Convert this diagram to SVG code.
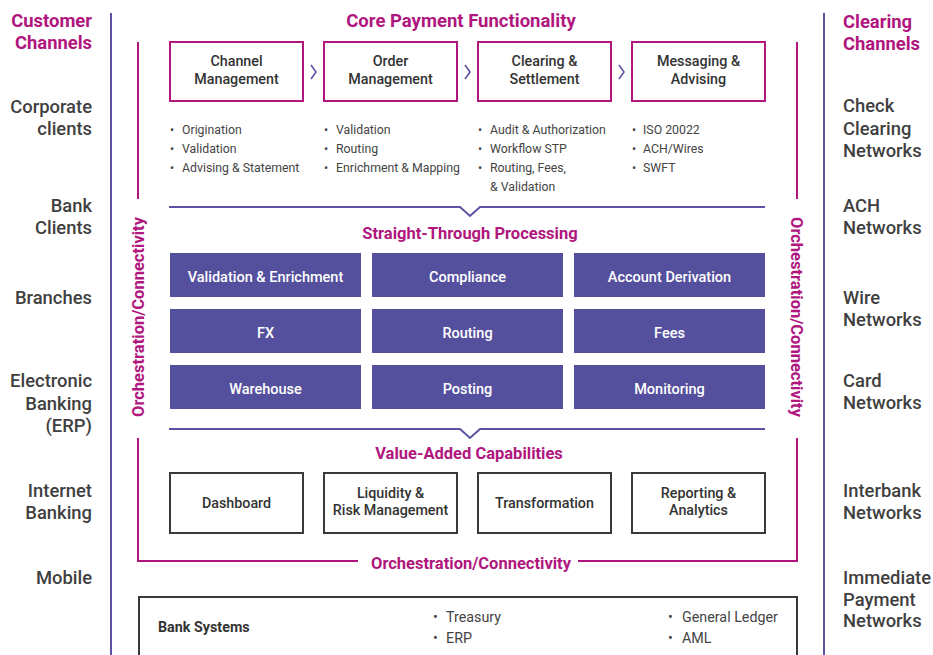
<svg xmlns="http://www.w3.org/2000/svg" width="933" height="655" viewBox="0 0 933 655">
<defs>
<style>
text{font-family:Roboto,"Liberation Sans",sans-serif;}
.side{font-size:18.4px;fill:#3f3f3f;font-weight:500;}
.sideh{font-size:18.4px;font-weight:bold;fill:#b0167e;}
.title{font-size:18.5px;font-weight:bold;fill:#b0167e;text-anchor:middle;}
.sub{font-size:16.5px;font-weight:bold;fill:#b0167e;text-anchor:middle;}
.bx{fill:#fff;stroke:#b0167e;stroke-width:2;}
.vbx{fill:#fff;stroke:#3a3a3a;stroke-width:2;}
.pbx{fill:#55509d;}
.bt{font-size:14.3px;fill:#333;text-anchor:middle;font-weight:500;}
.wt{font-size:14.5px;fill:#fff;text-anchor:middle;font-weight:500;}
.li{font-size:12.3px;fill:#444;}
.bl{font-size:14.3px;fill:#444;}
.pl{fill:none;stroke:#5a53a3;stroke-width:2;}
.ml{fill:none;stroke:#b0167e;stroke-width:2;}
.chev{fill:none;stroke:#5a53a3;stroke-width:1.6;}
</style>
</defs>
<rect width="933" height="655" fill="#fff"/>

<g id="connectors">
<line class="pl" x1="111" y1="13" x2="111" y2="655"/>
<line class="pl" x1="824" y1="13" x2="824" y2="655"/>
<polyline class="ml" points="138,42 138,199"/>
<polyline class="ml" points="138,438 138,561 358,561"/>
<polyline class="ml" points="578,561 797,561 797,438"/>
<polyline class="ml" points="797,199 797,42"/>
<polyline class="pl" points="169,207 460,207 470,216 480,207 765,207"/>
<polyline class="pl" points="169,429 460,429 470,438 480,429 765,429"/>
<polyline class="chev" points="311,65 316,72 311,79"/>
<polyline class="chev" points="465,65 470,72 465,79"/>
<polyline class="chev" points="619,65 624,72 619,79"/>
</g>

<g id="left-labels" text-anchor="end">
<text class="sideh" x="92" y="27">Customer</text>
<text class="sideh" x="92" y="49">Channels</text>
<text class="side" x="92" y="113">Corporate</text>
<text class="side" x="92" y="135">clients</text>
<text class="side" x="92" y="212">Bank</text>
<text class="side" x="92" y="234">Clients</text>
<text class="side" x="92" y="304">Branches</text>
<text class="side" x="92" y="387">Electronic</text>
<text class="side" x="92" y="410">Banking</text>
<text class="side" x="92" y="432">(ERP)</text>
<text class="side" x="92" y="497">Internet</text>
<text class="side" x="92" y="519">Banking</text>
<text class="side" x="92" y="584">Mobile</text>
</g>

<g id="right-labels">
<text class="sideh" x="843" y="28">Clearing</text>
<text class="sideh" x="843" y="50">Channels</text>
<text class="side" x="843" y="112">Check</text>
<text class="side" x="843" y="135">Clearing</text>
<text class="side" x="843" y="157">Networks</text>
<text class="side" x="843" y="212">ACH</text>
<text class="side" x="843" y="234">Networks</text>
<text class="side" x="843" y="304">Wire</text>
<text class="side" x="843" y="326">Networks</text>
<text class="side" x="843" y="387">Card</text>
<text class="side" x="843" y="409">Networks</text>
<text class="side" x="843" y="497">Interbank</text>
<text class="side" x="843" y="519">Networks</text>
<text class="side" x="843" y="584">Immediate</text>
<text class="side" x="843" y="606">Payment</text>
<text class="side" x="843" y="627">Networks</text>
</g>

<text class="title" x="461" y="27">Core Payment Functionality</text>
<text class="sub" x="470" y="239">Straight-Through Processing</text>
<text class="sub" x="469" y="459">Value-Added Capabilities</text>
<text class="sub" x="471" y="569">Orchestration/Connectivity</text>
<text class="sub" transform="translate(144,317) rotate(-90)" x="0" y="0">Orchestration/Connectivity</text>
<text class="sub" transform="translate(791,317) rotate(90)" x="0" y="0">Orchestration/Connectivity</text>

<g id="channel-management">
<rect class="bx" x="170" y="42" width="133" height="59"/>
<text class="bt" x="236.5" y="66">Channel</text>
<text class="bt" x="236.5" y="84">Management</text>
<text class="li" x="170" y="134">•  <tspan x="182">Origination</tspan></text>
<text class="li" x="170" y="153">•  <tspan x="182">Validation</tspan></text>
<text class="li" x="170" y="172">•  <tspan x="182">Advising &amp; Statement</tspan></text>
</g>
<g id="order-management">
<rect class="bx" x="324" y="42" width="133" height="59"/>
<text class="bt" x="390.5" y="66">Order</text>
<text class="bt" x="390.5" y="84">Management</text>
<text class="li" x="324" y="134">•  <tspan x="336">Validation</tspan></text>
<text class="li" x="324" y="153">•  <tspan x="336">Routing</tspan></text>
<text class="li" x="324" y="172">•  <tspan x="336">Enrichment &amp; Mapping</tspan></text>
</g>
<g id="clearing-settlement">
<rect class="bx" x="478" y="42" width="133" height="59"/>
<text class="bt" x="544.5" y="66">Clearing &amp;</text>
<text class="bt" x="544.5" y="84">Settlement</text>
<text class="li" x="478" y="134">•  <tspan x="490">Audit &amp; Authorization</tspan></text>
<text class="li" x="478" y="153">•  <tspan x="490">Workflow STP</tspan></text>
<text class="li" x="478" y="172">•  <tspan x="490">Routing, Fees,</tspan></text>
<text class="li" x="490" y="191">&amp; Validation</text>
</g>
<g id="messaging-advising">
<rect class="bx" x="632" y="42" width="133" height="59"/>
<text class="bt" x="698.5" y="66">Messaging &amp;</text>
<text class="bt" x="698.5" y="84">Advising</text>
<text class="li" x="632" y="134">•  <tspan x="643">ISO 20022</tspan></text>
<text class="li" x="632" y="153">•  <tspan x="643">ACH/Wires</tspan></text>
<text class="li" x="632" y="172">•  <tspan x="643">SWFT</tspan></text>
</g>

<g id="validation-enrichment"><rect class="pbx" x="170" y="253" width="191" height="44"/><text class="wt" x="265.5" y="282">Validation &amp; Enrichment</text></g>
<g id="compliance"><rect class="pbx" x="372" y="253" width="191" height="44"/><text class="wt" x="467.5" y="282">Compliance</text></g>
<g id="account-derivation"><rect class="pbx" x="574" y="253" width="191" height="44"/><text class="wt" x="669.5" y="282">Account Derivation</text></g>
<g id="fx"><rect class="pbx" x="170" y="309" width="191" height="44"/><text class="wt" x="265.5" y="338">FX</text></g>
<g id="routing"><rect class="pbx" x="372" y="309" width="191" height="44"/><text class="wt" x="467.5" y="338">Routing</text></g>
<g id="fees"><rect class="pbx" x="574" y="309" width="191" height="44"/><text class="wt" x="669.5" y="338">Fees</text></g>
<g id="warehouse"><rect class="pbx" x="170" y="365" width="191" height="44"/><text class="wt" x="265.5" y="394">Warehouse</text></g>
<g id="posting"><rect class="pbx" x="372" y="365" width="191" height="44"/><text class="wt" x="467.5" y="394">Posting</text></g>
<g id="monitoring"><rect class="pbx" x="574" y="365" width="191" height="44"/><text class="wt" x="669.5" y="394">Monitoring</text></g>

<g id="dashboard"><rect class="vbx" x="170" y="473" width="133" height="60"/><text class="bt" x="236.5" y="508">Dashboard</text></g>
<g id="liquidity"><rect class="vbx" x="324" y="473" width="133" height="60"/><text class="bt" x="390.5" y="498">Liquidity &amp;</text><text class="bt" x="390.5" y="515">Risk Management</text></g>
<g id="transformation"><rect class="vbx" x="478" y="473" width="133" height="60"/><text class="bt" x="544.5" y="508">Transformation</text></g>
<g id="reporting"><rect class="vbx" x="632" y="473" width="133" height="60"/><text class="bt" x="698.5" y="498">Reporting &amp;</text><text class="bt" x="698.5" y="515">Analytics</text></g>

<g id="bank-systems">
<rect class="vbx" x="139" y="597" width="658" height="70"/>
<text x="158" y="632" font-size="14.3" font-weight="bold" fill="#333">Bank Systems</text>
<text class="bl" x="433" y="622">•  <tspan x="446">Treasury</tspan></text>
<text class="bl" x="433" y="643">•  <tspan x="446">ERP</tspan></text>
<text class="bl" x="668" y="622">•  <tspan x="682">General Ledger</tspan></text>
<text class="bl" x="668" y="643">•  <tspan x="682">AML</tspan></text>
</g>
</svg>
